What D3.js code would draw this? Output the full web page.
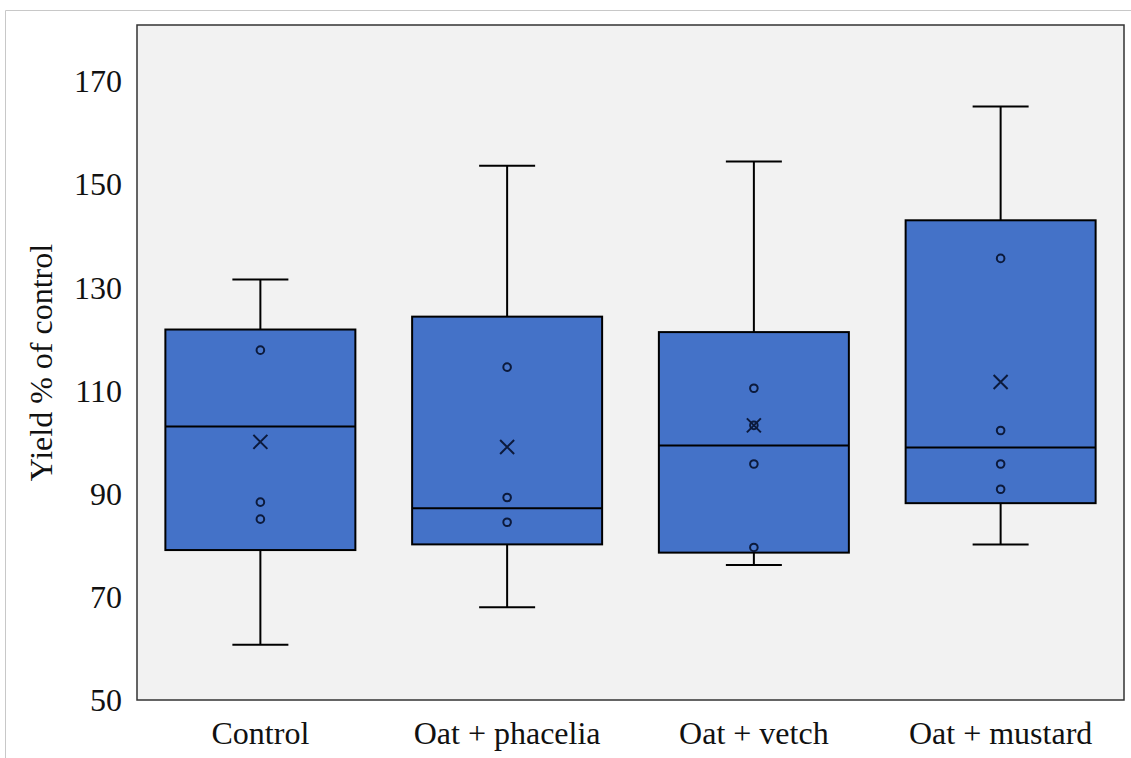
<!DOCTYPE html>
<html>
<head>
<meta charset="utf-8">
<script src="https://cdn.jsdelivr.net/npm/d3@7"></script>
<style>
  body { margin: 0; background: #fff; }
  text { font-family: "Liberation Serif", "Times New Roman", serif; fill: #111; }
</style>
</head>
<body>
<svg id="chart" width="1131" height="758"></svg>
<script>
// valores
const categories = ["Control", "Oat + phacelia", "Oat + vetch", "Oat + mustard"]
const whiskerLow = [60.7, 68.0, 76.2, 80.2]
const q1 = [79.1, 80.2, 78.6, 88.2]
const medians = [103.1, 87.2, 99.4, 99.0]
const q3 = [121.9, 124.4, 121.4, 143.1]
const whiskerHigh = [131.6, 153.7, 154.5, 165.2]
const means = [100.1, 99.1, 103.3, 111.7]
const innerPoints = [
  [117.9, 88.4, 85.1],
  [114.6, 89.3, 84.5],
  [110.5, 103.3, 95.8, 79.6],
  [135.7, 102.3, 95.8, 90.9]
]
const yTicks = [50, 70, 90, 110, 130, 150, 170]

const plotL = 137, plotR = 1124, plotT = 25, plotB = 700
const fontSize = 32
const svg = d3.select('#chart')

// marco exterior
svg.append('path')
  .attr('d', `M5.5,758 V10.5 H1131`)
  .attr('fill', 'none').attr('stroke', '#c8c8c8').attr('stroke-width', 1)

// escalas
const x = d3.scaleBand().domain(categories).range([plotL, plotR])
  .paddingInner(0.23).paddingOuter(0.115)
const y = d3.scaleLinear().domain([50, 181]).range([plotB, plotT])

// fondo del área de trazado
svg.append('rect')
  .attr('x', plotL).attr('y', plotT)
  .attr('width', plotR - plotL).attr('height', plotB - plotT)
  .attr('fill', '#f2f2f2')

const rows = categories.map((c, i) => ({
  c, lo: whiskerLow[i], q1: q1[i], med: medians[i], q3: q3[i], hi: whiskerHigh[i],
  mean: means[i], pts: innerPoints[i]
}))

const g = svg.append('g')
const capW = 56

const box = g.selectAll('g.box').data(rows).join('g').attr('class', 'box')
  .attr('transform', d => `translate(${x(d.c)},0)`)

const bw = x.bandwidth()
// bigotes
box.append('line')
  .attr('x1', bw / 2).attr('x2', bw / 2)
  .attr('y1', d => y(d.hi)).attr('y2', d => y(d.q3))
  .attr('stroke', '#000').attr('stroke-width', 2)
box.append('line')
  .attr('x1', bw / 2).attr('x2', bw / 2)
  .attr('y1', d => y(d.q1)).attr('y2', d => y(d.lo))
  .attr('stroke', '#000').attr('stroke-width', 2)
box.append('line')
  .attr('x1', bw / 2 - capW / 2).attr('x2', bw / 2 + capW / 2)
  .attr('y1', d => y(d.hi)).attr('y2', d => y(d.hi))
  .attr('stroke', '#000').attr('stroke-width', 2)
box.append('line')
  .attr('x1', bw / 2 - capW / 2).attr('x2', bw / 2 + capW / 2)
  .attr('y1', d => y(d.lo)).attr('y2', d => y(d.lo))
  .attr('stroke', '#000').attr('stroke-width', 2)

// caja
box.append('rect')
  .attr('x', 0).attr('width', bw)
  .attr('y', d => y(d.q3)).attr('height', d => y(d.q1) - y(d.q3))
  .attr('fill', '#4472c8').attr('stroke', '#000').attr('stroke-width', 2)
// mediana
box.append('line')
  .attr('x1', 0).attr('x2', bw)
  .attr('y1', d => y(d.med)).attr('y2', d => y(d.med))
  .attr('stroke', '#000').attr('stroke-width', 2)

// puntos interiores
box.selectAll('circle').data(d => d.pts).join('circle')
  .attr('cx', bw / 2).attr('cy', v => y(v)).attr('r', 3.8)
  .attr('fill', '#4a78cc').attr('stroke', '#0c1a3c').attr('stroke-width', 2)

// media (X)
const s = 7
box.append('path')
  .attr('d', d => {
    const cx = bw / 2, cy = y(d.mean)
    return `M${cx - s},${cy - s}L${cx + s},${cy + s}M${cx - s},${cy + s}L${cx + s},${cy - s}`
  })
  .attr('stroke', '#0c1a3c').attr('stroke-width', 2).attr('fill', 'none')

// borde del área
svg.append('rect')
  .attr('x', plotL).attr('y', plotT)
  .attr('width', plotR - plotL).attr('height', plotB - plotT)
  .attr('fill', 'none').attr('stroke', '#333').attr('stroke-width', 1.5)

// eje Y
const yAxis = svg.append('g')
  .attr('transform', `translate(${plotL},0)`)
  .call(d3.axisLeft(y).tickValues(yTicks).tickSize(0).tickPadding(15))
yAxis.select('.domain').remove()
yAxis.selectAll('text')
  .attr('font-size', fontSize).attr('font-family', '"Liberation Serif", serif').attr('fill', '#111')

// eje X
const xAxis = svg.append('g')
  .attr('transform', `translate(0,${plotB})`)
  .call(d3.axisBottom(x).tickSize(0).tickPadding(21))
xAxis.select('.domain').remove()
xAxis.selectAll('text')
  .attr('font-size', fontSize).attr('font-family', '"Liberation Serif", serif').attr('fill', '#111')

// título del eje Y
svg.append('text')
  .attr('transform', `translate(52,${(plotT + plotB) / 2}) rotate(-90)`)
  .attr('text-anchor', 'middle')
  .attr('font-size', fontSize)
  .text('Yield % of control')
</script>
</body>
</html>
